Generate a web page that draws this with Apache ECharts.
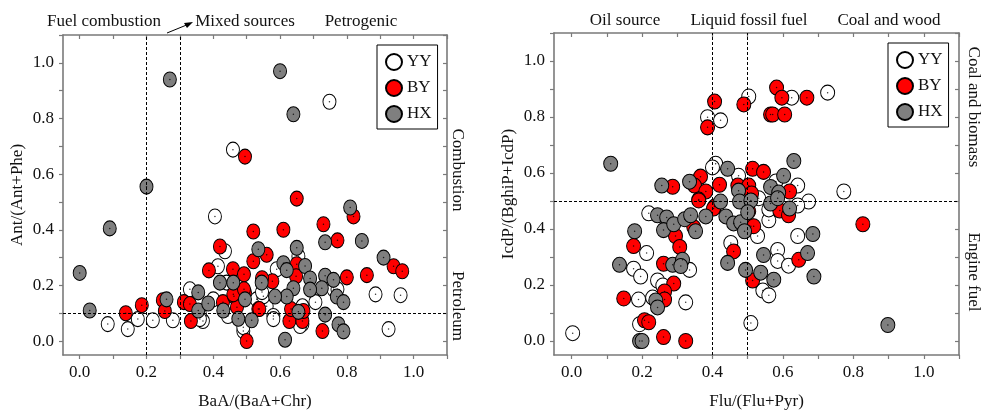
<!DOCTYPE html>
<html><head><meta charset="utf-8">
<script src="https://cdn.jsdelivr.net/npm/echarts@6/dist/echarts.min.js"></script>
<style>html,body{margin:0;padding:0;background:#fff}#c{width:989px;height:415px}</style>
</head><body><div id="c"></div>
<script>
const seriesNames = ['YY', 'BY', 'HX'];
const tickValues = [0, 0.1, 0.2, 0.3, 0.4, 0.5, 0.6, 0.7, 0.8, 0.9, 1.0, 1.1];
const labelValues = [0, 0.2, 0.4, 0.6, 0.8, 1.0];

// Left panel: BaA/(BaA+Chr) vs Ant/(Ant+Phe)
const leftYY = [[0.748,0.86],[0.459,0.688],[0.405,0.448],[0.435,0.323],[0.414,0.269],[0.33,0.186],[0.084,0.061],[0.144,0.043],[0.174,0.079],[0.219,0.075],[0.279,0.075],[0.369,0.072],[0.36,0.097],[0.444,0.09],[0.56,0.125],[0.49,0.036],[0.53,0.15],[0.886,0.168],[0.961,0.165],[0.925,0.043],[0.706,0.14],[0.58,0.09],[0.667,0.061],[0.59,0.258],[0.76,0.186],[0.55,0.161],[0.655,0.305],[0.546,0.176],[0.58,0.079],[0.66,0.054],[0.49,0.05],[0.667,0.125],[0.772,0.186],[0.36,0.079],[0.44,0.21],[0.40,0.15]];
const leftBY = [[0.495,0.663],[0.65,0.512],[0.82,0.448],[0.73,0.42],[0.52,0.394],[0.61,0.40],[0.772,0.362],[0.56,0.31],[0.52,0.287],[0.65,0.276],[0.94,0.269],[0.966,0.251],[0.86,0.237],[0.80,0.229],[0.648,0.233],[0.577,0.215],[0.535,0.115],[0.628,0.072],[0.667,0.072],[0.727,0.036],[0.67,0.108],[0.42,0.34],[0.387,0.254],[0.459,0.258],[0.492,0.24],[0.138,0.10],[0.186,0.129],[0.249,0.147],[0.255,0.108],[0.312,0.14],[0.333,0.072],[0.429,0.14],[0.462,0.161],[0.471,0.122],[0.495,0.175],[0.50,0.0],[0.538,0.115],[0.546,0.226],[0.33,0.133],[0.46,0.168],[0.492,0.186],[0.633,0.115]];
const leftHX = [[0.0,0.245],[0.03,0.11],[0.09,0.405],[0.20,0.555],[0.27,0.94],[0.60,0.97],[0.64,0.815],[0.81,0.48],[0.735,0.355],[0.845,0.36],[0.91,0.30],[0.65,0.335],[0.535,0.33],[0.61,0.28],[0.62,0.255],[0.675,0.27],[0.69,0.225],[0.735,0.235],[0.76,0.22],[0.725,0.19],[0.69,0.185],[0.64,0.19],[0.62,0.16],[0.585,0.16],[0.545,0.21],[0.77,0.16],[0.79,0.14],[0.655,0.105],[0.735,0.095],[0.775,0.06],[0.79,0.035],[0.615,0.005],[0.515,0.075],[0.26,0.15],[0.355,0.175],[0.355,0.11],[0.385,0.135],[0.42,0.21],[0.46,0.21],[0.43,0.11],[0.475,0.08],[0.495,0.15]];

// Right panel: Flu/(Flu+Pyr) vs IcdP/(BghiP+IcdP)
const rightYY = [[0.503,0.873],[0.386,0.799],[0.423,0.788],[0.409,0.633],[0.474,0.59],[0.219,0.456],[0.727,0.887],[0.625,0.869],[0.773,0.534],[0.642,0.555],[0.673,0.498],[0.642,0.484],[0.58,0.57],[0.642,0.375],[0.585,0.325],[0.585,0.286],[0.616,0.269],[0.543,0.18],[0.56,0.163],[0.509,0.064],[0.56,0.431],[0.528,0.375],[0.003,0.028],[0.213,0.314],[0.176,0.258],[0.196,0.23],[0.244,0.216],[0.19,0.148],[0.193,0.06],[0.324,0.138],[0.335,0.254],[0.23,0.155],[0.259,0.198],[0.452,0.35],[0.531,0.51],[0.56,0.47],[0.40,0.62]];
const rightBY = [[0.406,0.855],[0.489,0.845],[0.386,0.763],[0.565,0.809],[0.287,0.551],[0.366,0.587],[0.349,0.555],[0.381,0.534],[0.361,0.505],[0.42,0.558],[0.514,0.615],[0.545,0.604],[0.472,0.555],[0.503,0.555],[0.511,0.527],[0.406,0.48],[0.503,0.463],[0.582,0.905],[0.597,0.869],[0.668,0.869],[0.571,0.809],[0.605,0.809],[0.619,0.534],[0.591,0.466],[0.827,0.417],[0.645,0.29],[0.514,0.216],[0.509,0.41],[0.616,0.449],[0.176,0.339],[0.148,0.152],[0.261,0.276],[0.29,0.205],[0.264,0.177],[0.264,0.148],[0.207,0.074],[0.219,0.067],[0.261,0.014],[0.324,0.0],[0.295,0.375],[0.307,0.336],[0.347,0.406],[0.361,0.502],[0.403,0.473],[0.46,0.32],[0.517,0.41]];
const rightHX = [[0.111,0.633],[0.256,0.555],[0.335,0.569],[0.443,0.615],[0.423,0.498],[0.474,0.537],[0.477,0.498],[0.509,0.502],[0.565,0.55],[0.631,0.643],[0.602,0.59],[0.588,0.53],[0.565,0.491],[0.619,0.473],[0.685,0.382],[0.67,0.314],[0.545,0.307],[0.537,0.244],[0.574,0.219],[0.688,0.23],[0.898,0.057],[0.136,0.272],[0.179,0.392],[0.244,0.449],[0.27,0.441],[0.261,0.396],[0.29,0.417],[0.321,0.435],[0.338,0.449],[0.352,0.392],[0.381,0.445],[0.438,0.445],[0.46,0.42],[0.48,0.424],[0.491,0.392],[0.443,0.279],[0.494,0.254],[0.287,0.272],[0.315,0.29],[0.31,0.268],[0.239,0.145],[0.244,0.12],[0.193,0.0],[0.2,0.0],[0.50,0.46],[0.585,0.51]];

const leftGuidesX = [0.2, 0.3];
const leftGuidesY = [0.1];
const rightGuidesX = [0.4, 0.5];
const rightGuidesY = [0.5];

const FONT = 'Liberation Serif';
const AX = '#7a7a7a';
const colors = {YY: '#ffffff', BY: '#ff0000', HX: '#7f7f7f'};

function xAx(grid, name, top) {
  return {
    type: 'value', gridIndex: grid, min: -0.05, max: 1.1, position: top ? 'top' : 'bottom',
    name: top ? '' : name, nameLocation: 'middle', nameGap: 38,
    nameTextStyle: {fontFamily: FONT, fontSize: 17, color: '#111'},
    axisLine: {show: true, onZero: false, lineStyle: {color: AX, width: 1.6}},
    axisTick: {show: true, inside: !!top, length: 4, customValues: tickValues, lineStyle: {color: AX, width: 1.2}},
    axisLabel: {show: !top, customValues: labelValues, formatter: v => v.toFixed(1), margin: 9,
      fontFamily: FONT, fontSize: 17, color: '#111'},
    splitLine: {show: false}
  };
}
function yAx(grid, name, right, gap) {
  return {
    type: 'value', gridIndex: grid, min: -0.05, max: 1.1, position: right ? 'right' : 'left',
    name: right ? '' : name, nameLocation: 'middle', nameGap: gap, nameRotate: 90,
    nameTextStyle: {fontFamily: FONT, fontSize: 17, color: '#111'},
    axisLine: {show: true, onZero: false, lineStyle: {color: AX, width: 1.6}},
    axisTick: {show: true, inside: !!right, length: 4, customValues: tickValues, lineStyle: {color: AX, width: 1.2}},
    axisLabel: {show: !right, customValues: labelValues, formatter: v => v.toFixed(1), margin: 9,
      fontFamily: FONT, fontSize: 17, color: '#111'},
    splitLine: {show: false}
  };
}

function scatter(name, data, xi, yi, size) {
  return {
    type: 'scatter', name: name, data: data, xAxisIndex: xi, yAxisIndex: yi,
    symbol: 'circle', symbolSize: size, z: 3,
    itemStyle: {color: colors[name], borderColor: '#000', borderWidth: 1, opacity: 1},
    emphasis: {disabled: true}
  };
}
function dots(data, xi, yi) {
  return {
    type: 'scatter', name: 'dot', data: data, xAxisIndex: xi, yAxisIndex: yi,
    symbol: 'circle', symbolSize: 1.5, z: 3, silent: true,
    itemStyle: {color: '#000'}
  };
}
function guides(gx, gy, xi, yi) {
  const d = [];
  gx.forEach(v => d.push({xAxis: v}));
  gy.forEach(v => d.push({yAxis: v}));
  return {
    type: 'scatter', name: 'guides', data: [], xAxisIndex: xi, yAxisIndex: yi, z: 1, silent: true,
    markLine: {silent: true, symbol: 'none', label: {show: false},
      lineStyle: {color: '#000', type: [3, 2], width: 1}, data: d}
  };
}

const leftData = {YY: leftYY, BY: leftBY, HX: leftHX};
const rightData = {YY: rightYY, BY: rightBY, HX: rightHX};
const series = [guides(leftGuidesX, leftGuidesY, 0, 0), guides(rightGuidesX, rightGuidesY, 2, 2)];
seriesNames.forEach(n => {
  series.push(scatter(n, leftData[n], 0, 0, [13, 15]));
  series.push(dots(leftData[n], 0, 0));
  series.push(scatter(n, rightData[n], 2, 2, [14, 15]));
  series.push(dots(rightData[n], 2, 2));
});

function legend(left, top) {
  return {
    data: seriesNames, left: left, top: top, orient: 'vertical',
    borderColor: '#000', borderWidth: 1, padding: [8, 6, 6, 8], itemGap: 9,
    itemWidth: 16, itemHeight: 16, itemGap: 8, itemTextGap: 8, selectedMode: false,
    textStyle: {fontFamily: FONT, fontSize: 17, color: '#111'}
  };
}

function txt(x, y, s, rot) {
  return {type: 'text', x: x, y: y, rotation: rot || 0,
    style: {text: s, fontFamily: FONT, fontSize: 17, fill: '#111', align: 'center', verticalAlign: 'middle'}};
}

const chart = echarts.init(document.getElementById('c'), null, {renderer: 'canvas'});
chart.setOption({
  animation: false,
  backgroundColor: '#fff',
  grid: [
    {left: 63, top: 35, width: 384, height: 322},
    {left: 554, top: 33, width: 405, height: 325}
  ],
  xAxis: [xAx(0, 'BaA/(BaA+Chr)', false), xAx(0, '', true), xAx(1, 'Flu/(Flu+Pyr)', false), xAx(1, '', true)],
  yAxis: [yAx(0, 'Ant/(Ant+Phe)', false, 37), yAx(0, '', true), yAx(1, 'IcdP/(BghiP+IcdP)', false, 37), yAx(1, '', true)],
  legend: [legend(377, 45), legend(888, 43)],
  series: series,
  graphic: [
    txt(104, 22, 'Fuel combustion'),
    txt(245, 22, 'Mixed sources'),
    txt(361, 22, 'Petrogenic'),
    {type: 'polyline', shape: {points: [[167, 33], [189, 24]]}, style: {stroke: '#000', lineWidth: 1}},
    {type: 'polygon', shape: {points: [[193, 22], [184, 23], [187, 28]]}, style: {fill: '#000'}},
    txt(457, 170, 'Combustion', -Math.PI / 2),
    txt(457, 306, 'Petroleum', -Math.PI / 2),
    txt(625, 21, 'Oil source'),
    txt(749, 21, 'Liquid fossil fuel'),
    txt(889, 21, 'Coal and wood'),
    txt(973, 107, 'Coal and biomass', -Math.PI / 2),
    txt(973, 272, 'Engine fuel', -Math.PI / 2)
  ]
});
</script></body></html>
